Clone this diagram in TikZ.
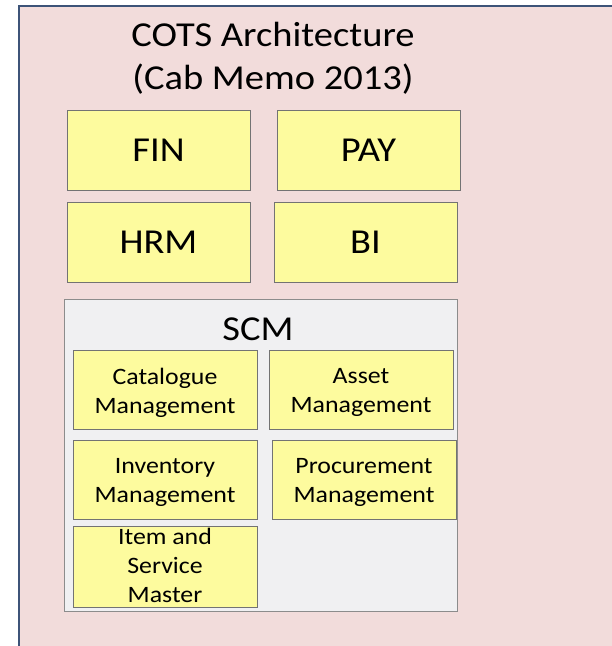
\documentclass[tikz,border=0pt]{standalone}
\usepackage{fontspec}
\setmainfont{Carlito}[FakeStretch=1.1]
\usepackage{xcolor}
\usetikzlibrary{positioning}

\definecolor{cabpink}{HTML}{F2DCDB}
\definecolor{cabframe}{HTML}{3D5378}
\definecolor{modyellow}{HTML}{FDFB9E}
\definecolor{scmgrey}{HTML}{F0F0F2}

\tikzset{
  modbox/.style={draw=black!55, fill=modyellow, line width=1pt,
    minimum width=183pt, minimum height=80pt, inner sep=0pt,
    font=\fontsize{35}{40}\selectfont},
  subbox/.style={draw=black!55, fill=modyellow, line width=1pt,
    minimum width=184pt, minimum height=79pt, inner sep=0pt, align=center,
    font=\fontsize{23.5}{29}\selectfont},
  subtext/.style={align=center, font=\fontsize{23.5}{29}\selectfont}
}

\begin{document}
\begin{tikzpicture}[x=1pt, y=-1pt]
      \useasboundingbox (0,0) rectangle (612,646);
      % outer frame, cut off at right and bottom
      \begin{scope}
        \clip (0,0) rectangle (612,646);
        \draw[cabframe, fill=cabpink, line width=2.5pt] (19,6) rectangle (640,680);
      \end{scope}
      \node[font=\fontsize{35}{43}\selectfont, align=center] (title) at (273,58)
            {COTS Architecture\\(Cab Memo 2013)};

      \node[modbox]  (fin)  at (158.5,150)          {FIN};
      \node[modbox]  (pay)  [right=26pt of fin]     {PAY};
      \node[modbox]  (hrm)  [below=11pt of fin]     {HRM};
      \node[modbox]  (bi)   [right=23pt of hrm]     {BI};

      \node[draw=black!45, fill=scmgrey, line width=1pt,
            minimum width=393pt, minimum height=312pt] (scm) at (260.5,455) {};
      \node[font=\fontsize{35}{40}\selectfont] (scmlbl) at (258,329) {SCM};

      \node[subbox]  (cat)   at (165,389.5)         {};
      \node[subbox]  (asset) [right=11pt of cat]    {};
      \node[subbox]  (inv)   [below=10pt of cat]    {};
      \node[subbox]  (proc)  [right=14pt of inv]    {};
      \node[subbox, minimum height=81pt] (item) [below=6pt of inv] {};

      \node[subtext] (cattxt)   at ([yshift=-3pt]cat.center)   {Catalogue\\Management};
      \node[subtext] (assettxt) at ([yshift=-3pt]asset.center) {Asset\\Management};
      \node[subtext] (invtxt)   at ([yshift=-3pt]inv.center)   {Inventory\\Management};
      \node[subtext] (proctxt)  at ([yshift=-3pt]proc.center)  {Procurement\\Management};
      \node[subtext] (itemtxt)  at (165,565)                   {Item and\\Service\\Master};
\end{tikzpicture}
\end{document}
